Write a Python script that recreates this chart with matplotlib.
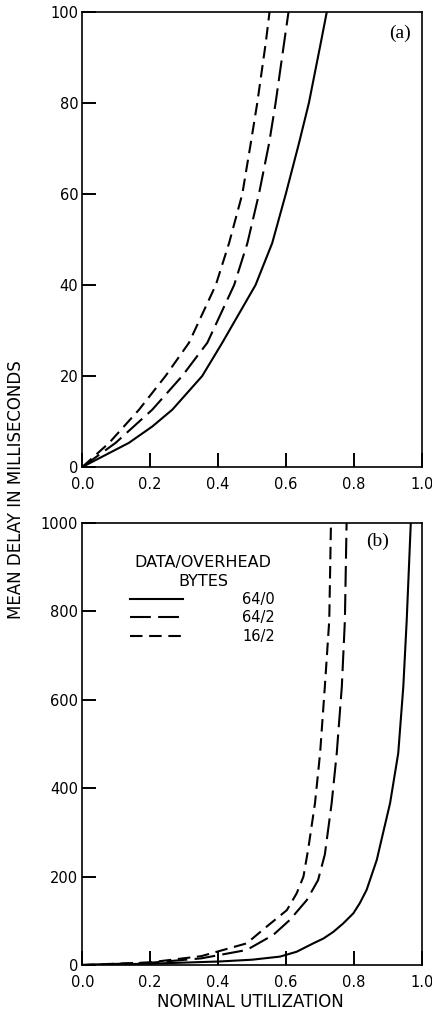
import numpy as np
import matplotlib
matplotlib.use('Agg')
import matplotlib.pyplot as plt
from matplotlib.lines import Line2D

# values: nominal utilization vs mean delay (ms)
# panel (a)
a_u_640 = [0, 0.137, 0.206, 0.265, 0.353, 0.412, 0.51, 0.559, 0.599, 0.638, 0.667, 0.702, 0.721, 0.73]
a_d_640 = [0, 5.3, 8.9, 12.6, 20, 27.3, 40, 49.2, 60, 71.2, 80, 93.2, 100.5, 105]
a_u_642 = [0, 0.098, 0.206, 0.294, 0.368, 0.447, 0.486, 0.52, 0.55, 0.569, 0.594, 0.608, 0.615]
a_d_642 = [0, 5.3, 12.6, 20, 27.3, 40, 49.2, 60, 71.2, 80, 93.2, 100.5, 105]
a_u_162 = [0, 0.079, 0.167, 0.245, 0.314, 0.393, 0.432, 0.471, 0.496, 0.515, 0.54, 0.552, 0.557]
a_d_162 = [0, 5.3, 12.6, 20, 27.3, 40, 49.2, 60, 71.2, 80, 93.2, 100.5, 105]

# panel (b)
b_u_640 = [0, 0.2, 0.405, 0.5, 0.582, 0.631, 0.68, 0.71, 0.739, 0.768, 0.798, 0.817, 0.837,
           0.867, 0.876, 0.906, 0.93, 0.945, 0.955, 0.967, 0.975]
b_d_640 = [0, 3, 8, 12, 19, 30, 49, 60, 75, 94, 117, 140, 170,
           238, 268, 366, 479, 630, 780, 1000, 1150]
b_u_642 = [0, 0.2, 0.35, 0.484, 0.562, 0.611, 0.661, 0.694, 0.714, 0.734, 0.749, 0.764, 0.773, 0.778, 0.782]
b_d_642 = [0, 5, 15, 34, 68, 102, 147, 192, 250, 366, 479, 630, 780, 1000, 1150]
b_u_162 = [0, 0.2, 0.35, 0.484, 0.543, 0.602, 0.631, 0.651, 0.665, 0.685, 0.7, 0.714, 0.727, 0.732, 0.736]
b_d_162 = [0, 6, 20, 49, 87, 124, 162, 200, 262, 366, 479, 630, 780, 1000, 1150]

series_labels = ['64/0', '64/2', '16/2']
styles = [dict(ls='-'), dict(ls=(0, (10, 3.5))), dict(ls=(0, (6, 3.2)))]

plt.rcParams['font.family'] = ['DejaVu Sans']

fig = plt.figure(figsize=(4.32, 10.27), dpi=100)
W, H = 432, 1027
ax1 = fig.add_axes([82.3/W, 1 - 467/H, 339.7/W, 455/H])
ax2 = fig.add_axes([82.3/W, 1 - 965/H, 339.7/W, 442/H])

lw = 1.5

def style_ax(ax, ymax, yticks):
    ax.set_xlim(0, 1)
    ax.set_ylim(0, ymax)
    ax.set_xticks([0, 0.2, 0.4, 0.6, 0.8, 1.0])
    ax.set_xticklabels(['0.0', '0.2', '0.4', '0.6', '0.8', '1.0'])
    ax.set_yticks(yticks)
    ax.tick_params(direction='in', length=10, width=1.4, labelsize=10.5)
    ax.tick_params(axis='y', pad=3)
    ax.tick_params(axis='x', pad=7)
    for s in ax.spines.values():
        s.set_linewidth(1.2)

for u, d, st in zip([a_u_640, a_u_642, a_u_162], [a_d_640, a_d_642, a_d_162], styles):
    ax1.plot(u, d, color='black', lw=lw, **st)
style_ax(ax1, 100, [0, 20, 40, 60, 80, 100])
ax1.text(0.935, 0.972, '(a)', transform=ax1.transAxes, ha='center', va='top',
         fontsize=14, family='Liberation Serif')

for u, d, st in zip([b_u_640, b_u_642, b_u_162], [b_d_640, b_d_642, b_d_162], styles):
    ax2.plot(u, d, color='black', lw=lw, **st)
style_ax(ax2, 1000, [0, 200, 400, 600, 800, 1000])
ax2.text(0.87, 0.977, '(b)', transform=ax2.transAxes, ha='center', va='top',
         fontsize=14, family='Liberation Serif')

# legend drawn by hand to match the layout
ax2.text(0.355, 0.91, 'DATA/OVERHEAD', transform=ax2.transAxes, ha='center',
         va='center', fontsize=11.5)
ax2.text(0.355, 0.867, 'BYTES', transform=ax2.transAxes, ha='center',
         va='center', fontsize=11.5)
for i, (lab, st) in enumerate(zip(series_labels, styles)):
    yy = [0.828, 0.787, 0.744][i]
    ax2.add_line(Line2D([0.141, 0.295], [yy, yy], transform=ax2.transAxes,
                        color='black', lw=lw, **st))
    ax2.text(0.567, yy, lab, transform=ax2.transAxes, ha='right', va='center',
             fontsize=10.5)

fig.text(16/W, 1 - 490/H, 'MEAN DELAY IN MILLISECONDS', rotation=90,
         ha='center', va='center', fontsize=12)
fig.text(250/W, 1 - 1002/H, 'NOMINAL UTILIZATION', ha='center',
         va='center', fontsize=12)

fig.savefig('out.png', dpi=100)
